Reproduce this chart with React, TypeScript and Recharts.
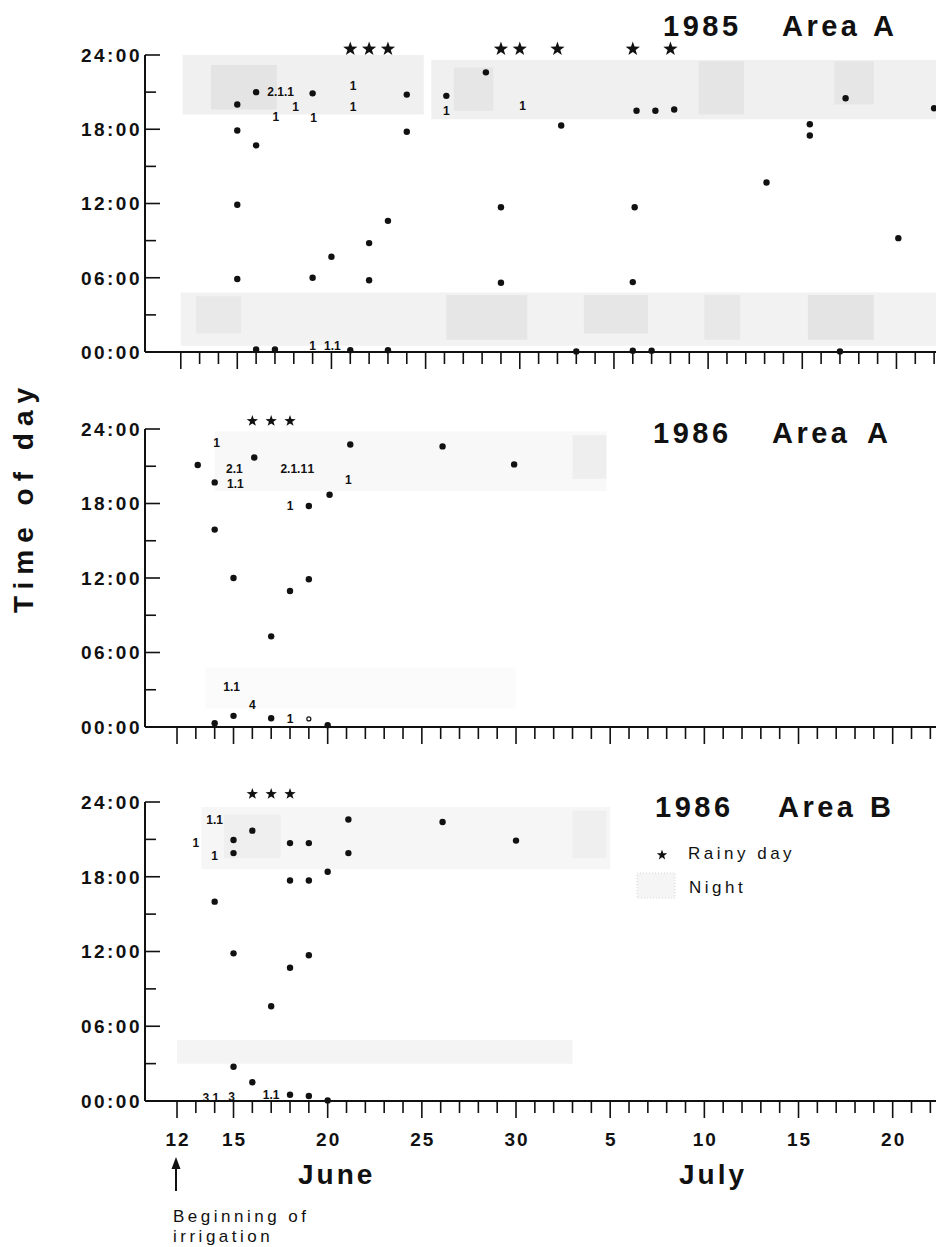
import React from 'react';
import { ScatterChart, Scatter, XAxis, YAxis, ReferenceArea } from 'recharts';

const FONT = '"Liberation Sans", Arial, Helvetica, sans-serif';
const INK = '#111';

// x = day counted from 1 June (July d = 30 + d), y = hour of day
const dayTicks = [12, 13, 14, 15, 16, 17, 18, 19, 20, 21, 22, 23, 24, 25, 26, 27, 28, 29, 30, 31, 32,
  33, 34, 35, 36, 37, 38, 39, 40, 41, 42, 43, 44, 45, 46, 47, 48, 49, 50, 51, 52];
const majorDays = [12, 15, 20, 25, 30, 35, 40, 45, 50];
const majorDayLabels = ['12', '15', '20', '25', '30', '5', '10', '15', '20'];
const hourTicks = [0, 3, 6, 9, 12, 15, 18, 21, 24];
const hourLabelTicks = [0, 6, 12, 18, 24];
const hourLabels = ['00:00', '06:00', '12:00', '18:00', '24:00'];

// 1985 Area A
const dots85A = [
  [15, 20.0], [15, 17.9], [15, 11.9], [15, 5.9], [16, 21.0], [16, 16.7], [16, 0.2], [17, 0.2],
  [19, 20.9], [19, 6.0], [20, 7.7], [21, 0.15], [22, 8.8], [22, 5.8], [23, 10.6], [23, 0.15],
  [24, 20.8], [24, 17.8], [26.1, 20.7], [28.2, 22.6], [29, 11.7], [29, 5.6], [32.2, 18.3], [33, 0.05],
  [36.2, 19.5], [36.1, 11.7], [36, 5.65], [36, 0.1], [37.2, 19.5], [37, 0.1], [38.2, 19.6], [43.1, 13.7],
  [45.4, 18.4], [45.4, 17.5], [47, 0.05], [47.3, 20.5], [50.1, 9.2], [52, 19.7],
];
const counts85A = [
  { day: 17.3, hour: 21.0, text: '2.1.1' }, { day: 17.05, hour: 19.05, text: '1' },
  { day: 18.1, hour: 19.8, text: '1' }, { day: 19.05, hour: 18.95, text: '1' },
  { day: 21.15, hour: 21.55, text: '1' }, { day: 21.15, hour: 19.8, text: '1' },
  { day: 26.1, hour: 19.5, text: '1' }, { day: 30.15, hour: 19.9, text: '1' },
  { day: 19.0, hour: 0.5, text: '1' }, { day: 20.05, hour: 0.5, text: '1.1' },
];
const rain85A = [21, 22, 23, 29, 30, 32, 36, 38];
const nights85A = [
  { from: 12.1, to: 24.9, lo: 19.2, hi: 24, shade: '#f0f0f0' },
  { from: 25.3, to: 52.1, lo: 18.8, hi: 23.6, shade: '#f0f0f0' },
  { from: 13.6, to: 17.1, lo: 19.6, hi: 23.2, shade: '#e4e4e4' },
  { from: 26.5, to: 28.6, lo: 19.5, hi: 23.0, shade: '#e6e6e6' },
  { from: 39.5, to: 41.9, lo: 19.2, hi: 23.5, shade: '#e5e5e5' },
  { from: 46.7, to: 48.8, lo: 20.0, hi: 23.5, shade: '#e6e6e6' },
  { from: 12.0, to: 52.1, lo: 0.5, hi: 4.8, shade: '#f2f2f2' },
  { from: 12.8, to: 15.2, lo: 1.5, hi: 4.5, shade: '#e9e9e9' },
  { from: 26.1, to: 30.4, lo: 1.0, hi: 4.6, shade: '#e6e6e6' },
  { from: 33.4, to: 36.8, lo: 1.5, hi: 4.6, shade: '#e6e6e6' },
  { from: 39.8, to: 41.7, lo: 1.0, hi: 4.6, shade: '#e8e8e8' },
  { from: 45.3, to: 48.8, lo: 1.0, hi: 4.6, shade: '#e4e4e4' },
];

// 1986 Area A
const dots86A = [
  [13.1, 21.1], [14, 19.7], [16.1, 21.7], [21.2, 22.75], [20.1, 18.7], [19, 17.8], [14, 15.9],
  [15, 12.0], [19, 11.9], [18, 10.95], [17, 7.3], [15, 0.9], [14, 0.3], [17, 0.7], [20, 0.15],
  [26.1, 22.6], [29.9, 21.15],
];
const hollow86A = [[19, 0.65]];
const counts86A = [
  { day: 14.1, hour: 22.9, text: '1' }, { day: 15.05, hour: 20.8, text: '2.1' },
  { day: 15.1, hour: 19.6, text: '1.1' }, { day: 18.2, hour: 20.8, text: '2.1.1' },
  { day: 19.1, hour: 20.8, text: '1' }, { day: 21.1, hour: 19.9, text: '1' },
  { day: 18.0, hour: 17.8, text: '1' }, { day: 14.9, hour: 3.25, text: '1.1' },
  { day: 16.0, hour: 1.8, text: '4' }, { day: 18.0, hour: 0.7, text: '1' },
];
const rain86A = [16, 17, 18];
const nights86A = [
  { from: 14, to: 34.8, lo: 19.0, hi: 23.8, shade: '#f8f8f8' },
  { from: 33, to: 34.8, lo: 20.0, hi: 23.5, shade: '#eeeeee' },
  { from: 13.5, to: 30, lo: 1.5, hi: 4.8, shade: '#fbfbfb' },
];

// 1986 Area B
const dots86B = [
  [16, 21.7], [15, 20.95], [15, 19.9], [21.1, 22.6], [26.1, 22.4], [18, 20.7], [19, 20.7],
  [21.1, 19.9], [20, 18.4], [18, 17.7], [19, 17.7], [14, 16.0], [15, 11.85], [19, 11.7],
  [18, 10.7], [17, 7.6], [15, 2.75], [16, 1.5], [18, 0.5], [19, 0.4], [20, 0.05], [30, 20.9],
];
const counts86B = [
  { day: 14, hour: 22.6, text: '1.1' }, { day: 13, hour: 20.7, text: '1' },
  { day: 14, hour: 19.7, text: '1' }, { day: 13.8, hour: 0.3, text: '3.1' },
  { day: 14.9, hour: 0.35, text: '3' }, { day: 17, hour: 0.5, text: '1.1' },
];
const rain86B = [16, 17, 18];
const nights86B = [
  { from: 13.3, to: 35, lo: 18.6, hi: 23.6, shade: '#f6f6f6' },
  { from: 14.5, to: 17.5, lo: 19.5, hi: 23.0, shade: '#efefef' },
  { from: 33, to: 34.8, lo: 19.5, hi: 23.3, shade: '#efefef' },
  { from: 12, to: 33, lo: 3.0, hi: 4.9, shade: '#f4f4f4' },
];

const toPts = (rows: number[][]) => rows.map(([day, hour]) => ({ day, hour }));

const dotShape = (p: any) => <circle cx={p.cx} cy={p.cy} r={3.2} fill={INK} />;
const hollowShape = (p: any) => <circle cx={p.cx} cy={p.cy} r={2} fill="#fff" stroke={INK} strokeWidth={1.2} />;
const countShape = (p: any) => (
  <text x={p.cx} y={p.cy} dy="0.36em" textAnchor="middle" fontFamily={FONT} fontWeight="bold"
    fontSize={12} fill={INK}>{p.payload?.text ?? p.text}</text>
);
const starPoints = (cx: number, cy: number, size: number) => {
  const pts: string[] = [];
  for (let k = 0; k < 10; k++) {
    const r = k % 2 === 0 ? size / 2 : size * 0.2;
    const a = -Math.PI / 2 + (k * Math.PI) / 5;
    pts.push(`${cx + r * Math.cos(a)},${cy + r * Math.sin(a)}`);
  }
  return pts.join(' ');
};
const starShape = (size: number, lift: number) => (p: any) => (
  <polygon points={starPoints(p.cx, p.cy - lift, size)} fill={INK} />
);

const dayTick = (showLabels: boolean) => (p: any) => {
  const i = majorDays.indexOf(p.payload.value);
  return (
    <g>
      <line x1={p.x} x2={p.x} y1={p.y} y2={p.y + (i >= 0 ? 17 : 12)} stroke={INK} strokeWidth={1.6} />
      {showLabels && i >= 0 && (
        <text x={p.x + 1} y={p.y + 45} textAnchor="middle" fontFamily={FONT} fontWeight="bold"
          fontSize={19} letterSpacing={2} fill={INK}>{majorDayLabels[i]}</text>
      )}
    </g>
  );
};

const hourTick = (p: any) => {
  const i = hourLabelTicks.indexOf(p.payload.value);
  return (
    <g>
      <line x1={p.x} x2={p.x + (i >= 0 ? 15 : 11)} y1={p.y} y2={p.y} stroke={INK} strokeWidth={1.6} />
      {i >= 0 && (
        <text x={p.x - 3} y={p.y} dy="0.36em" textAnchor="end" fontFamily={FONT} fontWeight="bold"
          fontSize={19} letterSpacing={2.5} fill={INK}>{hourLabels[i]}</text>
      )}
    </g>
  );
};

interface PanelProps {
  top: number;
  height: number;
  bottom: number;
  domain: [number, number];
  dots: number[][];
  hollow?: number[][];
  counts: { day: number; hour: number; text: string }[];
  rain: number[];
  nights: { from: number; to: number; lo: number; hi: number; shade: string }[];
  showLabels: boolean;
  starSize: number;
  starLift: number;
}

const Panel: React.FC<PanelProps> = ({ top, height, bottom, domain, dots, hollow, counts, rain, nights, showLabels, starSize, starLift }) => (
  <div style={{ position: 'absolute', left: 0, top }}>
    <ScatterChart width={936} height={height} margin={{ top: 55, right: 0, bottom, left: 144 }}>
      {nights.map((n, i) => (
        <ReferenceArea key={i} x1={n.from} x2={n.to} y1={n.lo} y2={n.hi} fill={n.shade} fillOpacity={1} stroke="none" />
      ))}
      <XAxis type="number" dataKey="day" domain={domain} ticks={dayTicks} interval={0}
        tick={dayTick(showLabels)} tickLine={false} tickSize={0} tickMargin={0} height={1}
        axisLine={{ stroke: INK, strokeWidth: 2 }} />
      <YAxis type="number" dataKey="hour" domain={[0, 24]} ticks={hourTicks} interval={0}
        tick={hourTick} tickLine={false} tickSize={0} tickMargin={0} width={1}
        axisLine={{ stroke: INK, strokeWidth: 2 }} />
      <Scatter data={toPts(dots)} shape={dotShape} isAnimationActive={false} />
      {hollow && <Scatter data={toPts(hollow)} shape={hollowShape} isAnimationActive={false} />}
      <Scatter data={counts} shape={countShape} isAnimationActive={false} />
      <Scatter data={rain.map((day) => ({ day, hour: 24 }))} shape={starShape(starSize, starLift)} isAnimationActive={false} />
    </ScatterChart>
  </div>
);

const titleStyle = { fontFamily: FONT, fontWeight: 'bold' as const, fontSize: 29, letterSpacing: 3.5, fill: INK };
const noteStyle = { fontFamily: FONT, fontSize: 17, letterSpacing: 3.5, fill: INK };

const Title = ({ y, words }: { y: number; words: [number, string][] }) => (
  <g>
    {words.map(([x, w]) => (
      <text key={w + x} x={x} y={y} style={titleStyle}>{w}</text>
    ))}
  </g>
);

export default function App() {
  return (
    <div style={{ position: 'absolute', left: 0, top: 0, width: 936, height: 1247, background: '#fff', overflow: 'hidden' }}>
      <Panel top={0} height={375} bottom={22} domain={[10.1, 52.1]} dots={dots85A} counts={counts85A} rain={rain85A}
        nights={nights85A} showLabels={false} starSize={15} starLift={6} />
      <Panel top={374} height={375} bottom={21} domain={[10.3, 52.3]} dots={dots86A} hollow={hollow86A} counts={counts86A}
        rain={rain86A} nights={nights86A} showLabels={false} starSize={12} starLift={8} />
      <Panel top={747} height={500} bottom={145} domain={[10.3, 52.3]} dots={dots86B} counts={counts86B} rain={rain86B}
        nights={nights86B} showLabels={true} starSize={12} starLift={8} />
      <svg width={936} height={1247} style={{ position: 'absolute', left: 0, top: 0, pointerEvents: 'none' }}>
        <Title y={36} words={[[663, '1985'], [782, 'Area'], [873, 'A']]} />
        <Title y={443} words={[[653, '1986'], [772, 'Area'], [867, 'A']]} />
        <Title y={817} words={[[655, '1986'], [778, 'Area'], [870, 'B']]} />

        <polygon points={starPoints(662, 855, 11)} fill={INK} />
        <text x={688} y={859} style={noteStyle}>Rainy day</text>
        <rect x={637} y={873} width={38} height={25} fill="#f5f5f5" stroke="#d8d8d8" strokeDasharray="1 2" />
        <text x={689} y={893} style={noteStyle}>Night</text>

        <text transform="translate(33, 497) rotate(-90)" textAnchor="middle" fontFamily={FONT}
          fontWeight="bold" fontSize={28} letterSpacing={7} fill={INK}>Time of day</text>

        <text x={298} y={1184} fontFamily={FONT} fontWeight="bold" fontSize={28} letterSpacing={3} fill={INK}>June</text>
        <text x={679} y={1184} fontFamily={FONT} fontWeight="bold" fontSize={28} letterSpacing={3} fill={INK}>July</text>

        <line x1={176} x2={176} y1={1166} y2={1191} stroke={INK} strokeWidth={2} />
        <polygon points="176,1157 171.5,1169 180.5,1169" fill={INK} />
        <text x={173} y={1222} style={noteStyle}>Beginning of</text>
        <text x={173} y={1242} style={noteStyle}>irrigation</text>
      </svg>
    </div>
  );
}
